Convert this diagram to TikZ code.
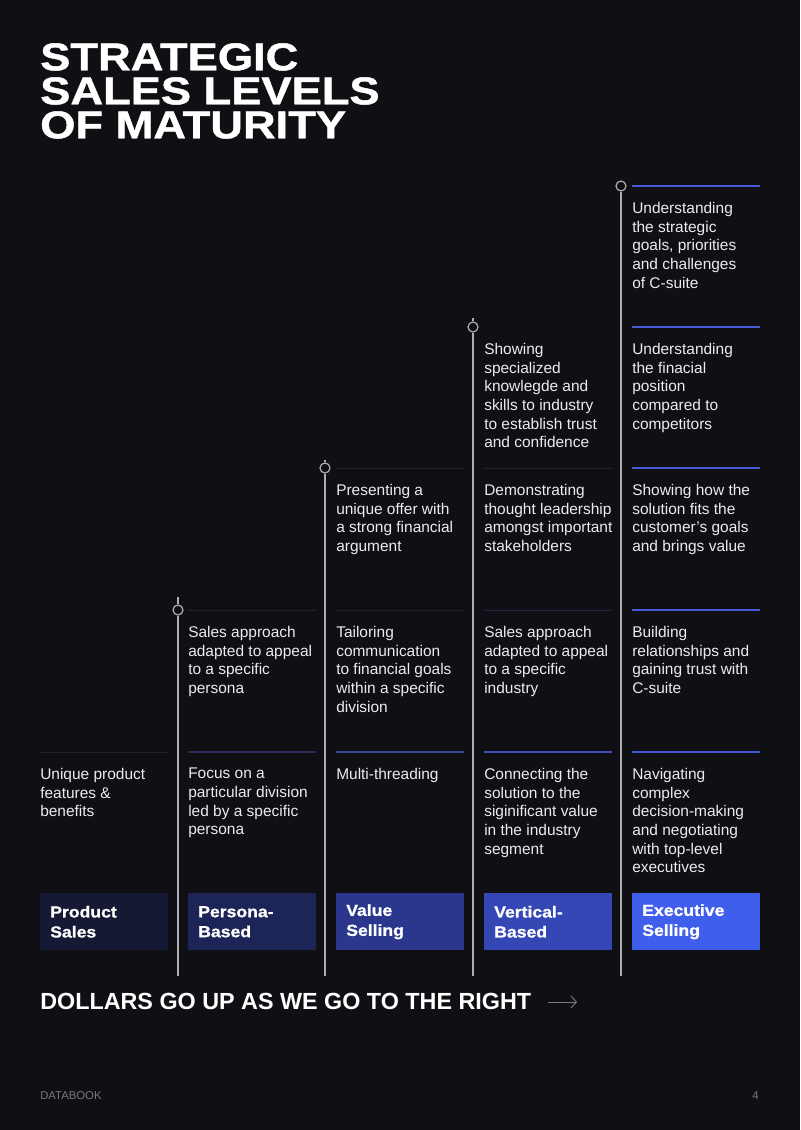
\documentclass[tikz,border=0pt]{standalone}
\usepackage{fontspec}
\setmainfont{Liberation Sans}
\newfontfamily\headfont[FakeStretch=1.1,FakeBold=1]{Liberation Sans Bold}
\newfontfamily\titlefont[FakeStretch=1.17,FakeBold=1.2]{Liberation Sans Bold}
\usepackage{xcolor}
\usepackage{tikz}
\usetikzlibrary{arrows.meta, positioning}

\definecolor{pagebg}{RGB}{15,15,20}
\definecolor{bodytext}{RGB}{236,236,238}
\definecolor{railgray}{RGB}{175,175,178}
\definecolor{rulefaint}{RGB}{34,34,44}
\definecolor{ruleB}{RGB}{42,45,92}
\definecolor{ruleC}{RGB}{58,68,150}
\definecolor{ruleD}{RGB}{66,80,178}
\definecolor{ruleE}{RGB}{70,90,215}
\definecolor{lvlA}{RGB}{21,25,51}
\definecolor{lvlB}{RGB}{29,37,88}
\definecolor{lvlC}{RGB}{42,55,140}
\definecolor{lvlD}{RGB}{53,70,181}
\definecolor{lvlE}{RGB}{64,94,236}
\definecolor{footgray}{RGB}{120,120,126}

\begin{document}
\begin{tikzpicture}[
    x=0.75pt, y=-0.75pt,
    cell/.style={anchor=north west, inner sep=0pt, align=left, text=bodytext, font=\fontsize{11.6}{14}\selectfont},
    level/.style={anchor=north west, inner xsep=7.5pt, inner ysep=0pt, minimum width=96pt, minimum height=42.75pt, text width=81pt, align=left, text=white, font=\headfont\fontsize{12}{15}\selectfont},
    rail/.style={draw=railgray, line width=0.9pt},
    knot/.style={circle, draw=railgray, line width=0.9pt, minimum size=7.5pt, inner sep=0pt},
    rulefine/.style={line width=0.75pt, draw=rulefaint},
    ruleblue/.style={line width=1.5pt},
    arrow/.style={-{Straight Barb[length=4pt, width=9pt]}, draw=footgray, line width=0.7pt}
]
    % Page
    \fill[pagebg] (0,0) rectangle (800,1130);
    \useasboundingbox (0,0) rectangle (800,1130);

    % Title
    \node[anchor=north west, inner sep=0pt, align=left, text=white, font=\titlefont\fontsize{29}{25.5}\selectfont] (title) at (40,43) {STRATEGIC\\SALES LEVELS\\OF MATURITY};

    % Separators
    \draw[rulefine] (40,752) -- ++(128,0);
    \draw[ruleblue, draw=ruleB] (188,752) -- ++(128,0);
    \draw[rulefine] (188,610) -- ++(128,0);
    \draw[ruleblue, draw=ruleC] (336,752) -- ++(128,0);
    \draw[rulefine] (336,610) -- ++(128,0);
    \draw[rulefine] (336,468) -- ++(128,0);
    \draw[ruleblue, draw=ruleD] (484,752) -- ++(128,0);
    \draw[rulefine, draw=ruleB!70!pagebg] (484,610) -- ++(128,0);
    \draw[rulefine] (484,468) -- ++(128,0);
    \draw[ruleblue, draw=ruleE] (632,752) -- ++(128,0);
    \draw[ruleblue, draw=ruleE] (632,610) -- ++(128,0);
    \draw[ruleblue, draw=ruleE] (632,468) -- ++(128,0);
    \draw[ruleblue, draw=ruleE] (632,327) -- ++(128,0);
    \draw[ruleblue, draw=ruleE] (632,186) -- ++(128,0);

    % Rails
    \coordinate (railBtop) at (178,597);
    \coordinate (railBbot) at (178,976);
    \node[knot] (knotB) at (178,610) {};
    \coordinate (railCtop) at (325,460);
    \coordinate (railCbot) at (325,976);
    \node[knot] (knotC) at (325,468) {};
    \coordinate (railDtop) at (473,318);
    \coordinate (railDbot) at (473,976);
    \node[knot] (knotD) at (473,327) {};
    \coordinate (railEbot) at (621,976);
    \node[knot] (knotE) at (621,186) {};

    \draw[rail] (railBtop) -- (knotB);
    \draw[rail] (knotB) -- (railBbot);
    \draw[rail] (railCtop) -- (knotC);
    \draw[rail] (knotC) -- (railCbot);
    \draw[rail] (railDtop) -- (knotD);
    \draw[rail] (knotD) -- (railDbot);
    \draw[rail] (knotE) -- (railEbot);

    % Product Sales
    \node[cell] (prodA) at (40,768) {Unique product\\features \&\\benefits};

    % Persona-Based
    \node[cell] (persA) at (188,768) {Focus on a\\particular division\\led by a specific\\persona};
    \node[cell] (persB) at (188,626) {Sales approach\\adapted to appeal\\to a specific\\persona};

    % Value Selling
    \node[cell] (valA) at (336,768) {Multi-threading};
    \node[cell] (valB) at (336,626) {Tailoring\\communication\\to financial goals\\within a specific\\division};
    \node[cell] (valC) at (336,484) {Presenting a\\unique offer with\\a strong financial\\argument};

    % Vertical-Based
    \node[cell] (vertA) at (484,768) {Connecting the\\solution to the\\siginificant value\\in the industry\\segment};
    \node[cell] (vertB) at (484,626) {Sales approach\\adapted to appeal\\to a specific\\industry};
    \node[cell] (vertC) at (484,484) {Demonstrating\\thought leadership\\amongst important\\stakeholders};
    \node[cell] (vertD) at (484,343) {Showing\\specialized\\knowlegde and\\skills to industry\\to establish trust\\and confidence};

    % Executive Selling
    \node[cell] (execA) at (632,768) {Navigating\\complex\\decision-making\\and negotiating\\with top-level\\executives};
    \node[cell] (execB) at (632,626) {Building\\relationships and\\gaining trust with\\C-suite};
    \node[cell] (execC) at (632,484) {Showing how the\\solution fits the\\customer's goals\\and brings value};
    \node[cell] (execD) at (632,343) {Understanding\\the finacial\\position\\compared to\\competitors};
    \node[cell] (execE) at (632,202) {Understanding\\the strategic\\goals, priorities\\and challenges\\of C-suite};

    % Levels
    \node[level, fill=lvlA] (product) at (40,893) {Product\\Sales};
    \node[level, fill=lvlB] (persona) at (188,893) {Persona-\\Based};
    \node[level, fill=lvlC] (value) at (336,893) {Value\\Selling};
    \node[level, fill=lvlD] (vertical) at (484,893) {Vertical-\\Based};
    \node[level, fill=lvlE] (executive) at (632,893) {Executive\\Selling};

    % Caption
    \node[anchor=north west, inner sep=0pt, text=white, font=\bfseries\fontsize{17.5}{20}\selectfont] (caption) at (40,993) {DOLLARS GO UP AS WE GO TO THE RIGHT};
    \coordinate (arrtail) at (548,1002);
    \coordinate (arrhead) at (577,1002);
    \draw[arrow] (arrtail) -- (arrhead);

    % Footer
    \node[anchor=base west, inner sep=0pt, text=footgray, font=\fontsize{8.5}{10}\selectfont] (footer) at (40,1099) {DATABOOK};
    \node[anchor=base east, inner sep=0pt, text=footgray, font=\fontsize{8.5}{10}\selectfont] (pagenum) at (759,1099) {4};

\end{tikzpicture}
\end{document}
